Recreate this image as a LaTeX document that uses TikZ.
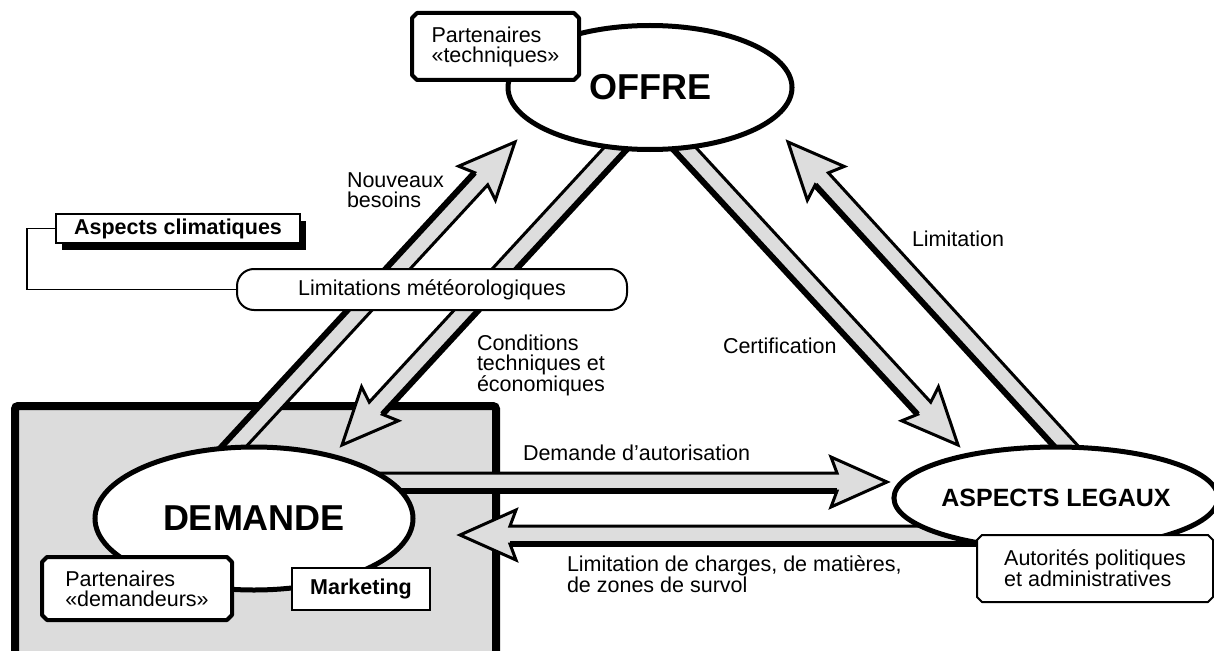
\documentclass[tikz,border=0pt]{standalone}
\usepackage{fontspec}
\setmainfont{Liberation Sans}
\usetikzlibrary{calc,shapes.geometric,shapes.misc,shadows}
\definecolor{panelgray}{RGB}{220,220,220}
\definecolor{arrowgray}{RGB}{221,221,221}

% Wide hollow arrow from #1 to #2; #3 (90 or -90) picks the side drawn with a heavy edge.
\newcommand\fatarrow[3]{%
  \path ($(#2)!56pt!(#1)$) coordinate (fa-hb)
        ($(#2)!50pt!(#1)$) coordinate (fa-j);
  \filldraw[arrowbody]
    ($(#1)!9pt!90:(#2)$) -- ($(fa-j)!9pt!90:(#2)$) -- ($(fa-hb)!25pt!90:(#2)$)
    -- (#2) -- ($(fa-hb)!25pt!-90:(#2)$) -- ($(fa-j)!9pt!-90:(#2)$)
    -- ($(#1)!9pt!-90:(#2)$) -- cycle;
  \draw[line width=6pt] ($(#1)!9pt!#3:(#2)$) -- ($(fa-j)!9pt!#3:(#2)$);
}

\begin{document}
\begin{tikzpicture}[x=1pt,y=-1pt,
  txt/.style={font=\fontsize{21.5}{20}\selectfont, inner sep=0pt, outer sep=0pt, align=left},
  hub/.style={ellipse, draw, line width=5pt, fill=white, inner sep=0pt, outer sep=0pt},
  partner/.style={chamfered rectangle, chamfered rectangle sep=2.5pt, draw, fill=white,
    line width=4pt, line join=round, txt},
  plainbox/.style={rectangle, draw, fill=white, line width=2pt, txt, align=center},
  arrowbody/.style={fill=arrowgray, draw=black, line width=3pt, line join=miter},
  link/.style={draw, line width=1.5pt}
]
\useasboundingbox (0,0) rectangle (1214,650);

% shaded market panel
\node[draw, line width=8pt, fill=panelgray, rounded corners=3pt, inner sep=0pt, outer sep=0pt,
      minimum width=481pt, minimum height=290pt, anchor=north west] (panel) at (15,406) {};

% arrow end points
\coordinate (nbS) at (180,505);  \coordinate (nbE) at (515,142);
\coordinate (ctS) at (650,111);  \coordinate (ctE) at (342,445);
\coordinate (ceS) at (661,123);  \coordinate (ceE) at (958,445);
\coordinate (liS) at (1087,469); \coordinate (liE) at (788,142);
\coordinate (daS) at (330,482);  \coordinate (daE) at (887,482);
\coordinate (lcS) at (1000,535); \coordinate (lcE) at (460,535);

\fatarrow{nbS}{nbE}{90}
\fatarrow{ctS}{ctE}{90}
\fatarrow{ceS}{ceE}{-90}
\fatarrow{liS}{liE}{90}
\fatarrow{daS}{daE}{-90}
\fatarrow{lcS}{lcE}{90}

% main poles
\node[hub, minimum width=284pt, minimum height=124pt, font=\fontsize{36}{40}\selectfont\bfseries]
  (offre) at (650,87.5) {OFFRE};
\node[hub, minimum width=318pt, minimum height=143pt, font=\fontsize{36}{40}\selectfont\bfseries]
  (demande) at (254,518.5) {DEMANDE};
\node[hub, minimum width=314pt, minimum height=102pt, font=\fontsize{25}{30}\selectfont\bfseries]
  (legaux) at (1056,498) {ASPECTS LEGAUX};

% actors attached to the poles
\node[partner, minimum width=167pt, minimum height=67pt] (ptech) at (495.5,46.5)
  {Partenaires\\«techniques»};
\node[partner, minimum width=190pt, minimum height=63pt] (pdem) at (137,588.5)
  {Partenaires\\«demandeurs»};
\node[partner, line width=2pt, minimum width=236pt, minimum height=67pt] (auth) at (1095,568.5)
  {Autorités politiques\\et administratives};
\node[plainbox, minimum width=138pt, minimum height=42pt, font=\fontsize{21.5}{20}\selectfont\bfseries]
  (mark) at (361,589) {Marketing};

% weather constraint
\node[plainbox, rounded corners=17pt, minimum width=390pt, minimum height=41pt]
  (meteo) at (432,289.5) {Limitations météorologiques};
\node[plainbox, minimum width=244pt, minimum height=29pt, font=\fontsize{21.5}{20}\selectfont\bfseries,
      drop shadow={shadow xshift=6pt, shadow yshift=-7pt, fill=black, opacity=1}]
  (clim) at (178,228.5) {Aspects climatiques};
\draw[link] (clim.west) -- ++(-29,0) |- (meteo.west);

% flow labels
\node[txt, anchor=north west] (lnb) at (347,173) {Nouveaux\\besoins};
\node[txt, anchor=north west] (lcond) at (477,335) {Conditions\\techniques et\\économiques};
\node[txt, anchor=base west] (lcert) at (723,353) {Certification};
\node[txt, anchor=base west] (llim) at (912,246) {Limitation};
\node[txt, anchor=base west] (ldem) at (523,460) {Demande d’autorisation};
\node[txt, anchor=north west] (lchg) at (567,556) {Limitation de charges, de matières,\\de zones de survol};
\end{tikzpicture}
\end{document}
